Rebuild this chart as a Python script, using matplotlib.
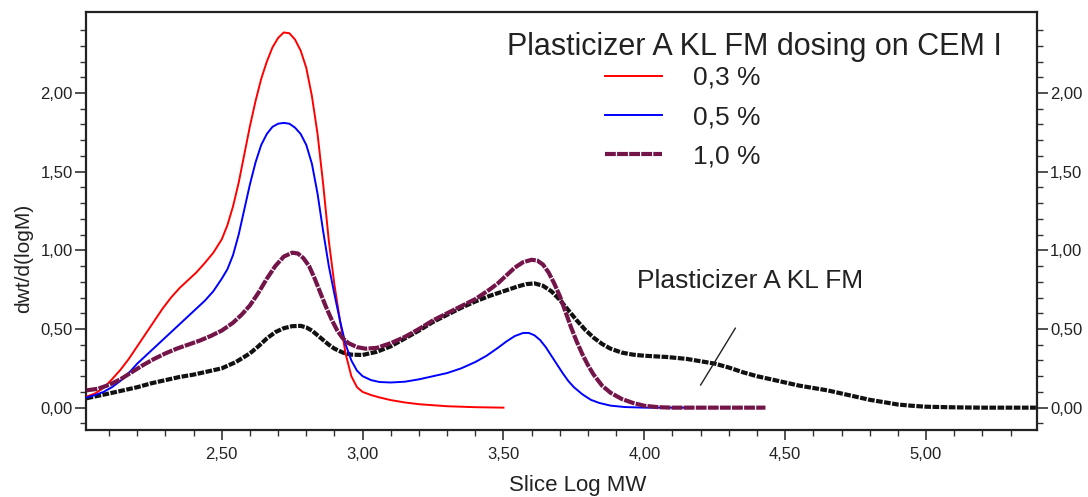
import matplotlib
matplotlib.use("Agg")
import matplotlib.pyplot as plt
from matplotlib.ticker import FixedLocator, FuncFormatter

plt.rcParams["font.family"] = ["Liberation Sans", "DejaVu Sans"]

# ---- values (x = Slice Log MW, y = dwt/d(logM)) ----
x_03 = [2.02, 2.05, 2.08, 2.11, 2.14, 2.17, 2.20, 2.23, 2.26, 2.29, 2.32, 2.35,
        2.38, 2.41, 2.44, 2.47, 2.50, 2.52, 2.54, 2.56, 2.58, 2.60, 2.62, 2.64,
        2.66, 2.68, 2.70, 2.72, 2.74, 2.76, 2.78, 2.80, 2.82, 2.84, 2.86, 2.88,
        2.90, 2.92, 2.94, 2.96, 2.98, 3.00, 3.03, 3.06, 3.10, 3.15, 3.20, 3.30,
        3.40, 3.50]
y_03 = [0.07, 0.09, 0.125, 0.18, 0.24, 0.31, 0.39, 0.47, 0.55, 0.63, 0.70, 0.76,
        0.81, 0.86, 0.92, 0.985, 1.07, 1.16, 1.28, 1.43, 1.61, 1.79, 1.95, 2.09,
        2.20, 2.29, 2.35, 2.385, 2.38, 2.34, 2.27, 2.16, 1.98, 1.74, 1.42, 1.06,
        0.78, 0.55, 0.34, 0.20, 0.13, 0.10, 0.08, 0.065, 0.048, 0.033, 0.022, 0.009,
        0.003, 0.0]

x_05 = [2.02, 2.05, 2.08, 2.11, 2.14, 2.17, 2.20, 2.23, 2.26, 2.29, 2.32, 2.35,
        2.38, 2.41, 2.44, 2.47, 2.50, 2.52, 2.54, 2.56, 2.58, 2.60, 2.62, 2.64,
        2.66, 2.68, 2.70, 2.72, 2.74, 2.76, 2.78, 2.80, 2.82, 2.84, 2.86, 2.88,
        2.90, 2.92, 2.94, 2.96, 2.98, 3.00, 3.03, 3.06, 3.10, 3.15, 3.20, 3.25,
        3.30, 3.35, 3.40, 3.44, 3.48, 3.51, 3.54, 3.57, 3.59, 3.61, 3.63, 3.65,
        3.67, 3.69, 3.71, 3.73, 3.75, 3.78, 3.81, 3.84, 3.88, 3.93, 4.00, 4.15]
y_05 = [0.065, 0.08, 0.10, 0.13, 0.17, 0.22, 0.28, 0.33, 0.38, 0.43, 0.48, 0.53,
        0.58, 0.63, 0.68, 0.74, 0.82, 0.88, 0.97, 1.10, 1.26, 1.42, 1.56, 1.67,
        1.74, 1.785, 1.805, 1.81, 1.805, 1.78, 1.74, 1.67, 1.55, 1.36, 1.12, 0.90,
        0.72, 0.55, 0.40, 0.30, 0.235, 0.20, 0.175, 0.163, 0.16, 0.165, 0.18, 0.20,
        0.22, 0.25, 0.29, 0.33, 0.38, 0.42, 0.455, 0.475, 0.475, 0.46, 0.43, 0.385,
        0.33, 0.275, 0.22, 0.17, 0.13, 0.085, 0.05, 0.03, 0.013, 0.004, 0.0, 0.0]

x_10 = [2.02, 2.06, 2.10, 2.14, 2.18, 2.22, 2.26, 2.30, 2.34, 2.38, 2.42, 2.46,
        2.50, 2.54, 2.57, 2.60, 2.63, 2.66, 2.69, 2.72, 2.75, 2.77, 2.79, 2.81,
        2.83, 2.85, 2.87, 2.89, 2.91, 2.93, 2.95, 2.98, 3.01, 3.05, 3.10, 3.15,
        3.20, 3.25, 3.30, 3.35, 3.40, 3.45, 3.48, 3.51, 3.54, 3.57, 3.60, 3.62,
        3.64, 3.66, 3.68, 3.70, 3.72, 3.74, 3.76, 3.78, 3.80, 3.82, 3.85, 3.88,
        3.92, 3.96, 4.00, 4.05, 4.10, 4.43]
y_10 = [0.11, 0.12, 0.145, 0.18, 0.225, 0.27, 0.31, 0.345, 0.375, 0.40, 0.425, 0.455,
        0.49, 0.54, 0.59, 0.65, 0.73, 0.82, 0.90, 0.96, 0.985, 0.98, 0.95, 0.90,
        0.82, 0.73, 0.64, 0.56, 0.49, 0.44, 0.41, 0.385, 0.375, 0.38, 0.41, 0.45,
        0.50, 0.555, 0.60, 0.645, 0.69, 0.75, 0.79, 0.84, 0.89, 0.925, 0.94, 0.935,
        0.91, 0.86, 0.79, 0.71, 0.61, 0.51, 0.42, 0.34, 0.27, 0.21, 0.14, 0.095,
        0.055, 0.03, 0.012, 0.003, 0.0, 0.0]

x_fm = [2.02, 2.06, 2.10, 2.15, 2.20, 2.25, 2.30, 2.35, 2.40, 2.45, 2.50, 2.55,
        2.60, 2.63, 2.66, 2.69, 2.72, 2.75, 2.78, 2.80, 2.82, 2.84, 2.86, 2.88,
        2.90, 2.93, 2.96, 3.00, 3.05, 3.10, 3.15, 3.20, 3.25, 3.30, 3.35, 3.40,
        3.45, 3.50, 3.55, 3.58, 3.61, 3.64, 3.67, 3.70, 3.73, 3.76, 3.79, 3.82,
        3.85, 3.88, 3.92, 3.96, 4.00, 4.08, 4.15, 4.20, 4.25, 4.30, 4.35, 4.40,
        4.45, 4.50, 4.55, 4.60, 4.65, 4.70, 4.75, 4.80, 4.85, 4.90, 4.95, 5.00,
        5.10, 5.20, 5.39]
y_fm = [0.06, 0.075, 0.09, 0.11, 0.13, 0.155, 0.175, 0.195, 0.21, 0.23, 0.25, 0.29,
        0.345, 0.39, 0.44, 0.48, 0.505, 0.518, 0.52, 0.51, 0.49, 0.46, 0.43, 0.40,
        0.375, 0.35, 0.337, 0.335, 0.355, 0.39, 0.44, 0.49, 0.545, 0.59, 0.635, 0.675,
        0.71, 0.74, 0.77, 0.785, 0.79, 0.775, 0.74, 0.685, 0.62, 0.555, 0.495, 0.445,
        0.405, 0.375, 0.35, 0.337, 0.33, 0.322, 0.31, 0.295, 0.28, 0.255, 0.225, 0.20,
        0.18, 0.16, 0.14, 0.125, 0.11, 0.09, 0.07, 0.05, 0.035, 0.02, 0.012, 0.006,
        0.002, 0.0, 0.0]

dose_labels = ["0,3 %", "0,5 %", "1,0 %"]
marker_x = [4.20, 4.323]
marker_y = [0.144, 0.505]

y_major = [0.0, 0.5, 1.0, 1.5, 2.0]
y_minor = [v / 10 for v in range(-1, 25)]

TXT = "#222222"

fig = plt.figure(figsize=(10.88, 4.97), dpi=100)
ax = fig.add_axes([86 / 1088, 1 - 430 / 497, 951 / 1088, 418 / 497])

l1, = ax.plot(x_03, y_03, color="#ff0000", lw=1.4, label=dose_labels[0], zorder=3)
l2, = ax.plot(x_05, y_05, color="#0000ff", lw=1.4, label=dose_labels[1], zorder=3)
ax.plot(x_fm, y_fm, color="#111111", lw=3.0, linestyle=(0, (1.6, 0.35)),
        solid_capstyle="butt", zorder=2)
l3, = ax.plot(x_10, y_10, color="#74154a", lw=3.0, linestyle=(0, (2.6, 0.3)),
              label=dose_labels[2], zorder=4)
ax.plot(marker_x, marker_y, color="#222222", lw=1.0, zorder=5)

ax.set_xlim(2.018, 5.394)
ax.set_ylim(-0.142, 2.515)

fmt = FuncFormatter(lambda v, _: f"{v:.2f}".replace(".", ","))
ax.xaxis.set_major_locator(FixedLocator([2.5, 3.0, 3.5, 4.0, 4.5, 5.0]))
ax.xaxis.set_minor_locator(FixedLocator([v / 10 for v in range(21, 54)]))
ax.yaxis.set_major_locator(FixedLocator(y_major))
ax.yaxis.set_minor_locator(FixedLocator(y_minor))
ax.xaxis.set_major_formatter(fmt)
ax.yaxis.set_major_formatter(fmt)

ax.tick_params(axis="both", which="both", direction="out", colors="#333333",
               labelcolor=TXT, labelsize=12)
ax.tick_params(axis="y", which="both", left=True, right=True,
               labelleft=True, labelright=True)
ax.tick_params(axis="y", which="major", length=8, width=1.2, pad=1.5)
ax.tick_params(axis="y", which="minor", length=4, width=1.0)
ax.tick_params(axis="x", which="major", length=7, width=1.2, pad=5)
ax.tick_params(axis="x", which="minor", length=4, width=1.0)
for sp in ax.spines.values():
    sp.set_linewidth(1.6)
    sp.set_color("#222222")

ax.set_xlabel("Slice Log MW", fontsize=16, color=TXT)
ax.xaxis.set_label_coords(0.517, -0.132)
ax.xaxis.label.set_va("center")
ax.set_ylabel("dwt/d(logM)", fontsize=15, color=TXT)
ax.yaxis.set_label_coords(-0.066, 0.411)
ax.yaxis.label.set_va("center")

ax.text(3.514, 2.242, "Plasticizer A KL FM dosing on CEM I", fontsize=22,
        color=TXT, ha="left", va="baseline")
ax.text(3.975, 0.76, "Plasticizer A KL FM", fontsize=19, color=TXT,
        ha="left", va="baseline")

ax.legend(handles=[l1, l2, l3], loc="upper left",
          bbox_to_anchor=((605 - 86) / 951, (430 - 66) / 418),
          frameon=False, fontsize=19, handlelength=2.15, handletextpad=1.2,
          labelspacing=0.58, borderpad=0, borderaxespad=0, labelcolor=TXT)

fig.savefig("out.png", dpi=100)
